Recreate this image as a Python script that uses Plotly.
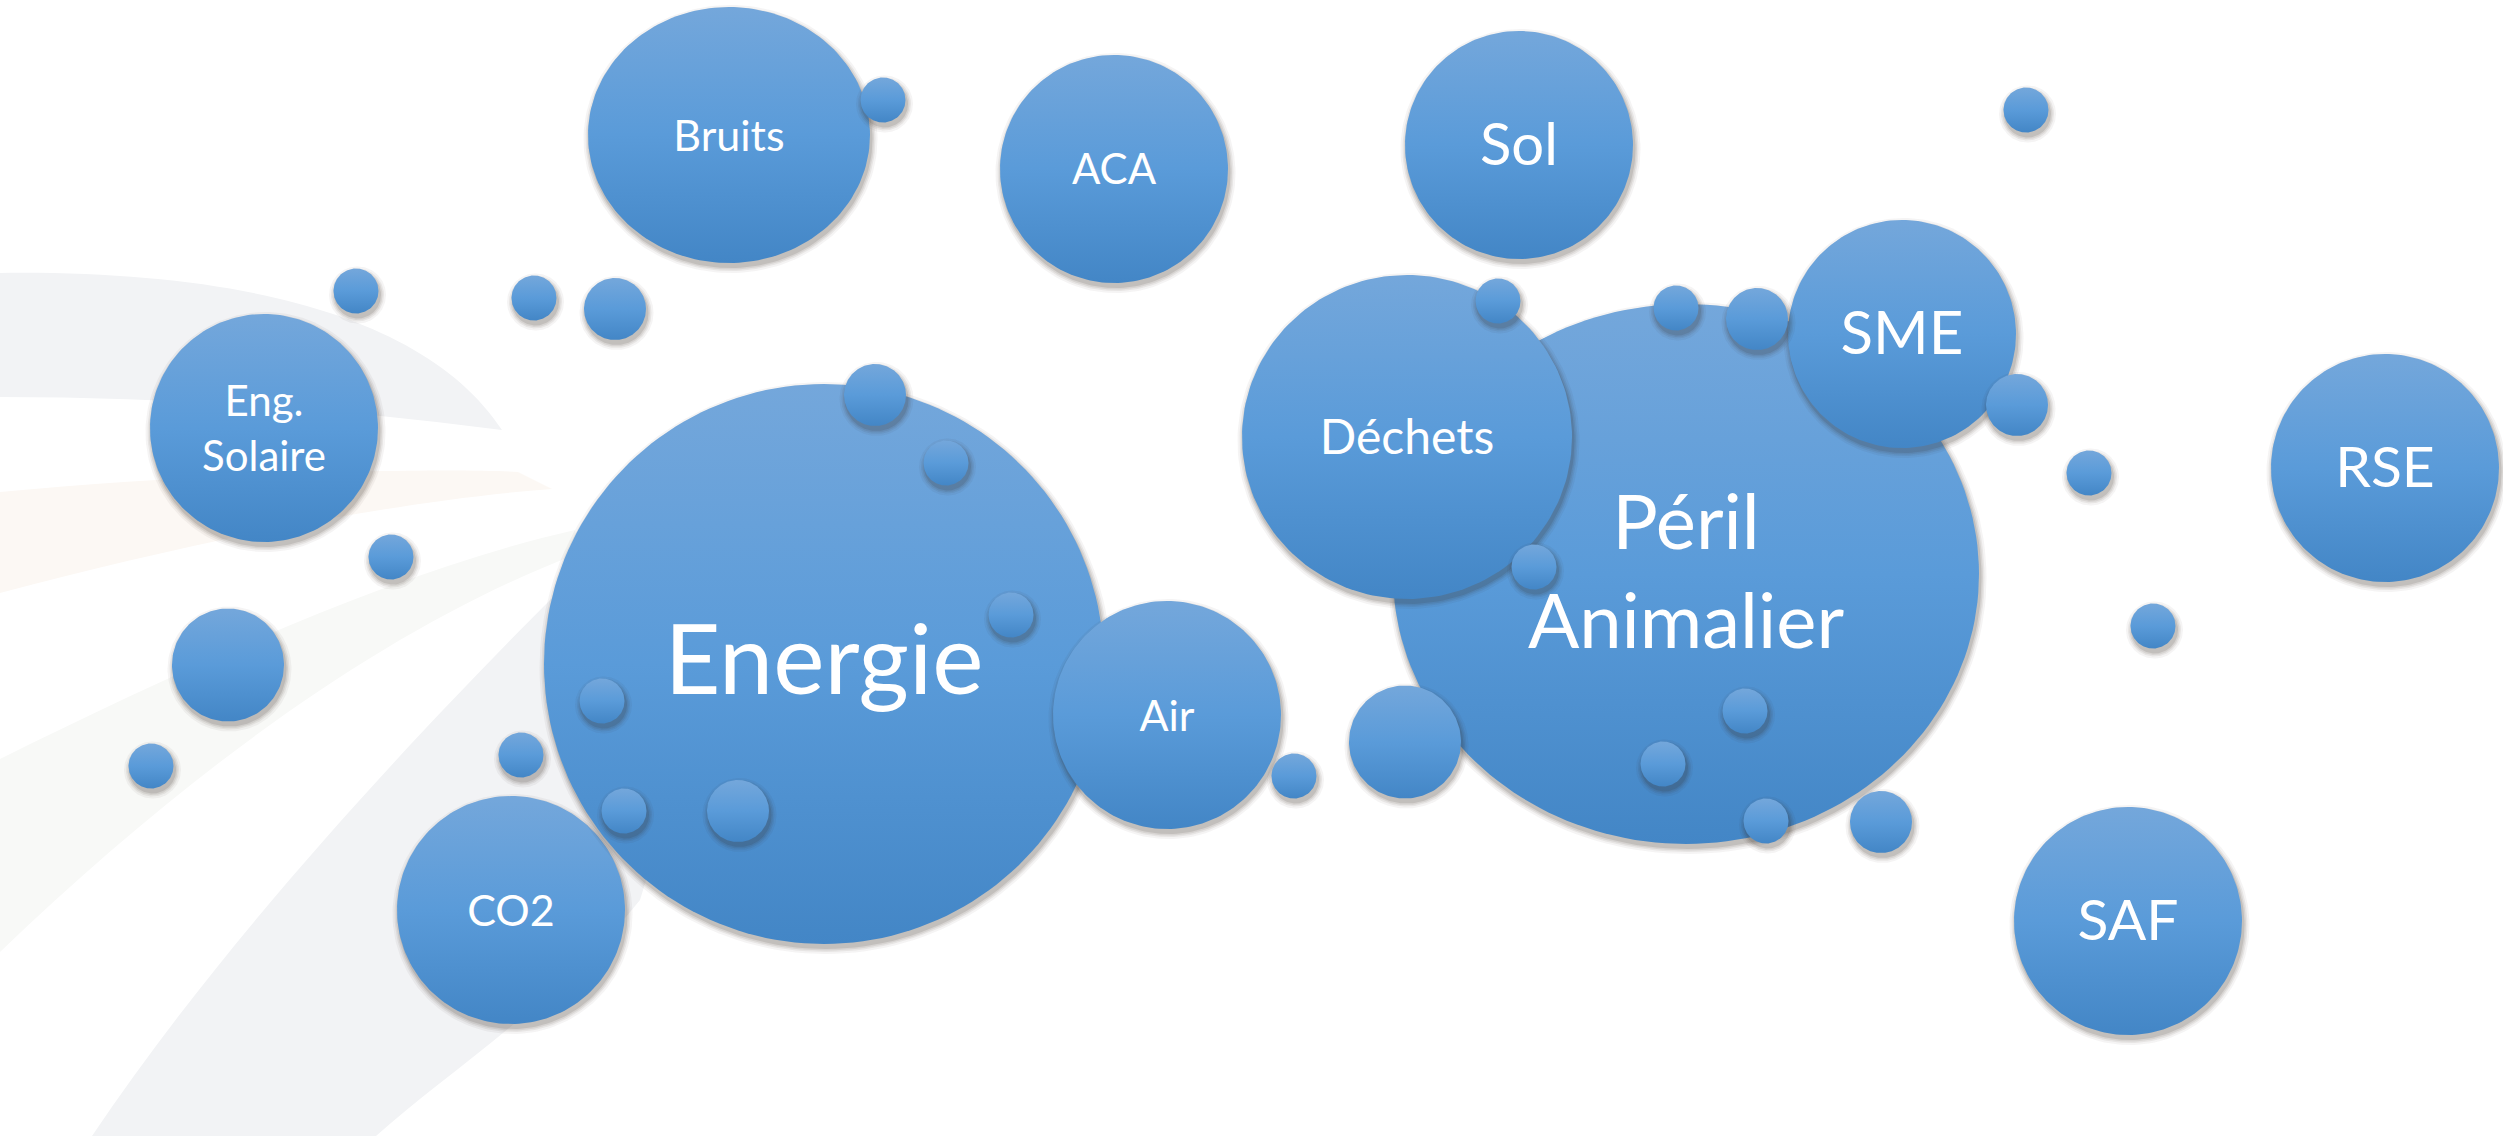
import numpy as np
import plotly.graph_objects as go

W, H = 2503, 1136

# ---- data: bubbles in drawing order (bottom -> top) ----
labels = ["CO2", "Energie", "Air", "Péril<br>Animalier", "Déchets", "SME",
          "Bruits", "ACA", "Sol", "RSE", "SAF", "Eng.<br>Solaire",
          "", "",
          "", "", "", "", "", "",
          "", "", "", "", "", "", "", "", "", "",
          "", "", "", "", "", "", "", "", "", ""]
cx = [511, 824, 1167, 1686, 1407, 1902,
      729, 1114, 1519, 2385, 2128, 264,
      228, 1405,
      615, 875, 738, 1757, 2017, 1881,
      883, 356, 534, 391, 151, 521, 946, 1011, 602, 624,
      2026, 1498, 1676, 1534, 1745, 1663, 1766, 1294, 2089, 2153]
cy = [910, 664, 715, 574, 437, 334,
      135, 169, 145, 468, 921, 428,
      665, 742,
      309, 395, 811, 319, 405, 822,
      100, 291, 298, 557, 766, 755, 463, 615, 701, 811,
      110, 301, 308, 567, 711, 764, 821, 776, 473, 626]
rx = [114, 280, 114, 293, 165, 114,
      141, 114, 114, 114, 114, 114,
      56, 56,
      31, 31, 31, 31, 31, 31,
      22.5, 22.5, 22.5, 22.5, 22.5, 22.5, 22.5, 22.5, 22.5, 22.5,
      22.5, 22.5, 22.5, 22.5, 22.5, 22.5, 22.5, 22.5, 22.5, 22.5]
ry = [114, 280, 114, 270, 162, 114,
      128, 114, 114, 114, 114, 114,
      56.5, 56.5,
      31, 31, 31, 31, 31, 31,
      22.5, 22.5, 22.5, 22.5, 22.5, 22.5, 22.5, 22.5, 22.5, 22.5,
      22.5, 22.5, 22.5, 22.5, 22.5, 22.5, 22.5, 22.5, 22.5, 22.5]

# label font sizes (style, per label)
label_size = {"CO2": 43, "Energie": 97, "Air": 43, "Péril<br>Animalier": 76,
              "Déchets": 48, "SME": 60, "Bruits": 43, "ACA": 42, "Sol": 58,
              "RSE": 57, "SAF": 57, "Eng.<br>Solaire": 42}

TOP, MID, BOT = "#74a7db", "#5a9bd9", "#4386c6"
theta = np.linspace(0, 2 * np.pi, 181)

fig = go.Figure()

for i in range(len(cx)):
    x0, y0, a, b = cx[i], cy[i], rx[i], ry[i]
    # soft shadow (several translucent layers, offset down-right)
    for k, alpha in [(6, 0.05), (4, 0.07), (2.5, 0.09), (1, 0.12)]:
        fig.add_trace(go.Scatter(
            x=x0 + 1.5 + (a + k) * np.cos(theta),
            y=y0 + 4 + (b + k) * np.sin(theta),
            mode="lines", fill="toself", line=dict(width=0),
            fillcolor=f"rgba(50,40,30,{alpha})", hoverinfo="skip"))
    fig.add_trace(go.Scatter(
        x=x0 + a * np.cos(theta), y=y0 + b * np.sin(theta),
        mode="lines", fill="toself", line=dict(width=0),
        fillgradient=dict(type="vertical",
                          colorscale=[[0, TOP], [0.5, MID], [1, BOT]],
                          start=y0 - b, stop=y0 + b),
        hoverinfo="skip"))

lab_idx = [i for i, t in enumerate(labels) if t]
sizes = [label_size[labels[i]] for i in lab_idx]
fig.add_trace(go.Scatter(
    x=[cx[i] for i in lab_idx],
    y=[cy[i] + 4 + 0.02 * s for i, s in zip(lab_idx, sizes)],
    text=[labels[i] for i in lab_idx], mode="text",
    textposition="middle center",
    textfont=dict(family="Lato, 'Open Sans', sans-serif", color="white",
                  size=sizes),
    hoverinfo="skip"))

# faint decorative swooshes in the background
shapes = [
    dict(type="path", path="M 0,273 C 250,270 430,320 502,430 Q 250,397 0,397 Z",
         fillcolor="#f2f3f5", line=dict(width=0), layer="below", xref="x", yref="y"),
    dict(type="path", path="M 0,492 C 200,472 450,468 518,472 L 552,489 C 400,500 200,540 0,593 Z",
         fillcolor="#fcf8f4", line=dict(width=0), layer="below", xref="x", yref="y"),
    dict(type="path", path="M 0,759 C 200,660 400,570 575,530 L 580,553 C 400,620 200,760 0,952 Z",
         fillcolor="#f8f9f7", line=dict(width=0), layer="below", xref="x", yref="y"),
    dict(type="path", path="M 92,1136 C 230,930 430,720 560,590 L 720,640 L 640,900 C 560,1000 450,1070 376,1136 Z",
         fillcolor="#f2f3f5", line=dict(width=0), layer="below", xref="x", yref="y"),
]

fig.update_layout(
    width=W, height=H, margin=dict(l=0, r=0, t=0, b=0),
    paper_bgcolor="white", plot_bgcolor="white", showlegend=False,
    xaxis=dict(range=[0, W], visible=False, fixedrange=True),
    yaxis=dict(range=[H, 0], visible=False, fixedrange=True),
    shapes=shapes,
)

fig.write_html("out.html", config={"displayModeBar": False},
               post_script="document.body.style.margin='0';document.body.style.overflow='hidden';")
